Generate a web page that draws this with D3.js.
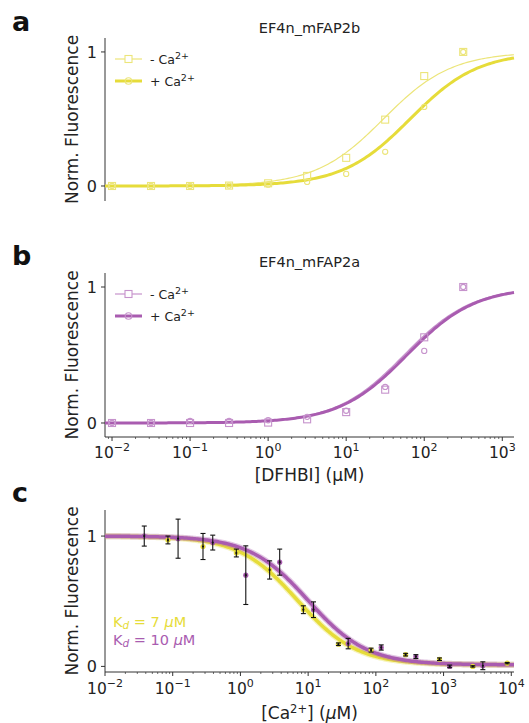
<!DOCTYPE html>
<html><head><meta charset="utf-8">
<script src="https://cdn.jsdelivr.net/npm/d3@7"></script>
<style>body{margin:0;background:#fff}svg{display:block}text{font-family:"DejaVu Sans",sans-serif}</style>
</head><body>
<svg id="c" width="529" height="723"></svg>
<script>
// ---------- DATA ----------
const dfhbiConc = [0.01, 0.0316, 0.1, 0.316, 1, 3.16, 10, 31.6, 100, 316];
const a_noCa = [0, 0, 0, 0.003, 0.02, 0.075, 0.21, 0.495, 0.82, 1.0];
const a_Ca   = [0, 0, 0, 0.003, 0.01, 0.03, 0.09, 0.255, 0.59, 1.0];
const b_noCa = [0, 0, 0, 0, 0.003, 0.027, 0.08, 0.245, 0.63, 1.0];
const b_Ca   = [0, 0, 0.015, 0.015, 0.02, 0.045, 0.09, 0.265, 0.53, 1.0];
// Hill-fit midpoints (uM) for the fitted curves
const a_fitK = [30, 66];   // -Ca, +Ca
const b_fitK = [55, 60];
// Ca titration
const caYellowX = [0.085, 0.28, 0.87, 2.7, 8.5, 28, 85, 275, 870, 2700, 8700];
const caYellowY = [0.97, 0.92, 0.87, 0.74, 0.435, 0.17, 0.125, 0.09, 0.055, 0.0, 0.025];
const caYellowE = [0.03, 0.10, 0.03, 0.07, 0.03, 0.01, 0.015, 0.01, 0.01, 0.005, 0.005];
const caPurpleX = [0.038, 0.12, 0.39, 1.2, 3.8, 12, 39, 120, 390, 1230, 3800];
const caPurpleY = [1.0, 0.98, 0.95, 0.70, 0.80, 0.435, 0.175, 0.145, 0.075, 0.0, 0.005];
const caPurpleE = [0.077, 0.15, 0.057, 0.225, 0.10, 0.06, 0.04, 0.02, 0.015, 0.01, 0.03];
const caKd = [7, 10];
const caBase = 0.012;
const yTicks = [0, 1];
const titles = ["EF4n_mFAP2b", "EF4n_mFAP2a"];
const panelLetters = ["a", "b", "c"];

// ---------- STYLE ----------
const YEL = "#e6dc3a", YEL_L = "#ece57a", PUR = "#a95cb0", PUR_L = "#c693cc";
const svg = d3.select("#c");

function supText(sel, base, sup, fs, supfs) {
  sel.append("tspan").text(base);
  sel.append("tspan").attr("dy", -fs * 0.42).attr("font-size", supfs).text(sup);
}

function makeAxes(p) {
  const g = svg.append("g");
  const x = d3.scaleLog().domain(p.xd).range([p.left, p.right]);
  const y = d3.scaleLinear().domain(p.yd).range([p.bottom, p.top]);
  g.append("line").attr("x1", p.left).attr("x2", p.left).attr("y1", p.top).attr("y2", p.bottom)
    .attr("stroke", "#333").attr("stroke-width", 1);
  yTicks.forEach(t => {
    g.append("line").attr("x1", p.left - 4).attr("x2", p.left).attr("y1", y(t)).attr("y2", y(t)).attr("stroke", "#333");
    g.append("text").attr("x", p.left - 8).attr("y", y(t) + 6).attr("text-anchor", "end")
      .attr("font-size", 16).attr("fill", "#222").text(t);
  });
  g.append("text").attr("transform", `translate(${p.ylabX},${(p.top + p.bottom) / 2}) rotate(-90)`)
    .attr("text-anchor", "middle").attr("font-size", 17).attr("fill", "#222").text("Norm. Fluorescence");
  if (p.xaxis) {
    g.append("line").attr("x1", p.left).attr("x2", p.right).attr("y1", p.bottom).attr("y2", p.bottom)
      .attr("stroke", "#333");
    const lo = Math.floor(Math.log10(p.xd[0])), hi = Math.ceil(Math.log10(p.xd[1]));
    for (let e = lo; e <= hi; e++) {
      for (let m = 1; m <= 9; m++) {
        const v = m * Math.pow(10, e);
        if (v < p.xd[0] * 0.999 || v > p.xd[1]) continue;
        const len = m === 1 ? 4 : 2;
        g.append("line").attr("x1", x(v)).attr("x2", x(v)).attr("y1", p.bottom).attr("y2", p.bottom + len)
          .attr("stroke", "#333").attr("stroke-width", m === 1 ? 1 : 0.7);
        if (m === 1) {
          const t = g.append("text").attr("x", x(v)).attr("y", p.tickY).attr("text-anchor", "middle")
            .attr("font-size", 15.5).attr("fill", "#222");
          supText(t, "10", (e < 0 ? "\u2212" : "") + Math.abs(e), 15.5, 11);
        }
      }
    }
  }
  return { x, y, g };
}

function hill(K, n) { return c => Math.pow(c, n) / (Math.pow(K, n) + Math.pow(c, n)); }

function samples(xd, n) {
  const l0 = Math.log10(xd[0]), l1 = Math.log10(xd[1]);
  return d3.range(n + 1).map(i => Math.pow(10, l0 + (l1 - l0) * i / n));
}

function dosePanel(p, yNo, yCa, Ks, col, colL, title) {
  const { x, y, g } = makeAxes(p);
  g.append("text").attr("x", (p.left + p.right) / 2).attr("y", p.titleY).attr("text-anchor", "middle")
    .attr("font-size", 14.5).attr("fill", "#222").text(title);
  const xs = samples(p.xd, 200);
  const line = f => d3.line().x(d => x(d)).y(d => y(f(d)))(xs);
  g.append("path").attr("d", line(hill(Ks[0], 1))).attr("fill", "none").attr("stroke", colL).attr("stroke-width", 1.2);
  g.append("path").attr("d", line(hill(Ks[1], 1))).attr("fill", "none").attr("stroke", col).attr("stroke-width", 3);
  dfhbiConc.forEach((c, i) => {
    g.append("rect").attr("x", x(c) - 3.5).attr("y", y(yNo[i]) - 3.5).attr("width", 7).attr("height", 7)
      .attr("fill", "none").attr("stroke", colL).attr("stroke-width", 1.1);
    g.append("circle").attr("cx", x(c)).attr("cy", y(yCa[i])).attr("r", 2.6)
      .attr("fill", "none").attr("stroke", colL).attr("stroke-width", 1.1);
  });
  const lx0 = 115, lx1 = 142;
  const ly = [p.top + 21, p.top + 43];
  g.append("line").attr("x1", lx0).attr("x2", lx1).attr("y1", ly[0]).attr("y2", ly[0]).attr("stroke", colL).attr("stroke-width", 1.2);
  g.append("rect").attr("x", (lx0 + lx1) / 2 - 3.5).attr("y", ly[0] - 3.5).attr("width", 7).attr("height", 7)
    .attr("fill", "#fff").attr("stroke", colL).attr("stroke-width", 1.1);
  g.append("line").attr("x1", lx0).attr("x2", lx1).attr("y1", ly[1]).attr("y2", ly[1]).attr("stroke", col).attr("stroke-width", 3);
  g.append("circle").attr("cx", (lx0 + lx1) / 2).attr("cy", ly[1]).attr("r", 3.3)
    .attr("fill", "none").attr("stroke", colL).attr("stroke-width", 1.1);
  const t1 = g.append("text").attr("x", 150).attr("y", ly[0] + 5).attr("font-size", 12.5).attr("fill", "#222");
  supText(t1, "- Ca", "2+", 12.5, 9.5);
  const t2 = g.append("text").attr("x", 150).attr("y", ly[1] + 5).attr("font-size", 12.5).attr("fill", "#222");
  supText(t2, "+ Ca", "2+", 12.5, 9.5);
  return { x, y, g };
}

// Panel a
dosePanel({ left: 105, right: 514, top: 38, bottom: 201, xd: [Math.pow(10, -2.09), Math.pow(10, 3.15)],
  yd: [-0.112, 1.104], xaxis: false, ylabX: 78, titleY: 33 }, a_noCa, a_Ca, a_fitK, YEL, YEL_L, titles[0]);
// Panel b
const pb = { left: 105, right: 514, top: 273, bottom: 437, xd: [Math.pow(10, -2.09), Math.pow(10, 3.15)],
  yd: [-0.103, 1.103], xaxis: true, ylabX: 78, titleY: 267, tickY: 458 };
dosePanel(pb, b_noCa, b_Ca, b_fitK, PUR, PUR_L, titles[1]);
svg.append("text").attr("x", (pb.left + pb.right) / 2).attr("y", 481).attr("text-anchor", "middle")
  .attr("font-size", 17).attr("fill", "#222").text("[DFHBI] (\u03bcM)");

// Panel c
const pc = { left: 105, right: 514, top: 510, bottom: 672, xd: [0.01, Math.pow(10, 4.04)],
  yd: [-0.043, 1.2], xaxis: true, ylabX: 78, tickY: 694 };
const C = makeAxes(pc);
const xsC = samples(pc.xd, 300);
[[caKd[0], YEL], [caKd[1], PUR]].forEach(([K, col]) => {
  const d = d3.line().x(v => C.x(v)).y(v => C.y(caBase + (1 - caBase) * K / (K + v)))(xsC);
  C.g.append("path").attr("d", d).attr("fill", "none").attr("stroke", col).attr("stroke-opacity", 0.35).attr("stroke-width", 6);
  C.g.append("path").attr("d", d).attr("fill", "none").attr("stroke", col).attr("stroke-width", 3.5);
});
function errPts(xs, ys, es, col) {
  xs.forEach((v, i) => {
    const cx = C.x(v), y0 = C.y(ys[i] - es[i]), y1 = C.y(ys[i] + es[i]);
    C.g.append("circle").attr("cx", cx).attr("cy", C.y(ys[i])).attr("r", 2.6).attr("fill", col);
    C.g.append("line").attr("x1", cx).attr("x2", cx).attr("y1", y0).attr("y2", y1).attr("stroke", "#111").attr("stroke-width", 1.1);
    [y0, y1].forEach(yy => C.g.append("line").attr("x1", cx - 2.5).attr("x2", cx + 2.5).attr("y1", yy).attr("y2", yy)
      .attr("stroke", "#111").attr("stroke-width", 1.1));
    C.g.append("circle").attr("cx", cx).attr("cy", C.y(ys[i])).attr("r", 1.1).attr("fill", "#111");
  });
}
errPts(caYellowX, caYellowY, caYellowE, YEL);
errPts(caPurpleX, caPurpleY, caPurpleE, PUR);
[[caKd[0], YEL, 627], [caKd[1], PUR, 645]].forEach(([K, col, yy]) => {
  const t = C.g.append("text").attr("x", 113).attr("y", yy).attr("font-size", 14.5).attr("fill", col);
  t.append("tspan").text("K");
  t.append("tspan").attr("font-size", 10.5).attr("font-style", "italic").attr("dy", 2).text("d");
  t.append("tspan").attr("dy", -2).text(" = " + K + " ");
  t.append("tspan").attr("font-style", "italic").text("\u03bc");
  t.append("tspan").text("M");
});
const xl = svg.append("text").attr("x", (pc.left + pc.right) / 2).attr("y", 719).attr("text-anchor", "middle")
  .attr("font-size", 17).attr("fill", "#222");
xl.append("tspan").text("[Ca");
xl.append("tspan").attr("dy", -6).attr("font-size", 11.5).text("2+");
xl.append("tspan").attr("dy", 6).text("] (");
xl.append("tspan").attr("font-style", "italic").text("\u03bc");
xl.append("tspan").text("M)");

[[12, 31], [12, 265], [12, 502]].forEach(([lx, ly], i) => {
  svg.append("text").attr("x", lx).attr("y", ly).attr("font-size", 27).attr("font-weight", "bold")
    .attr("fill", "#111").text(panelLetters[i]);
});
</script>
</body></html>
